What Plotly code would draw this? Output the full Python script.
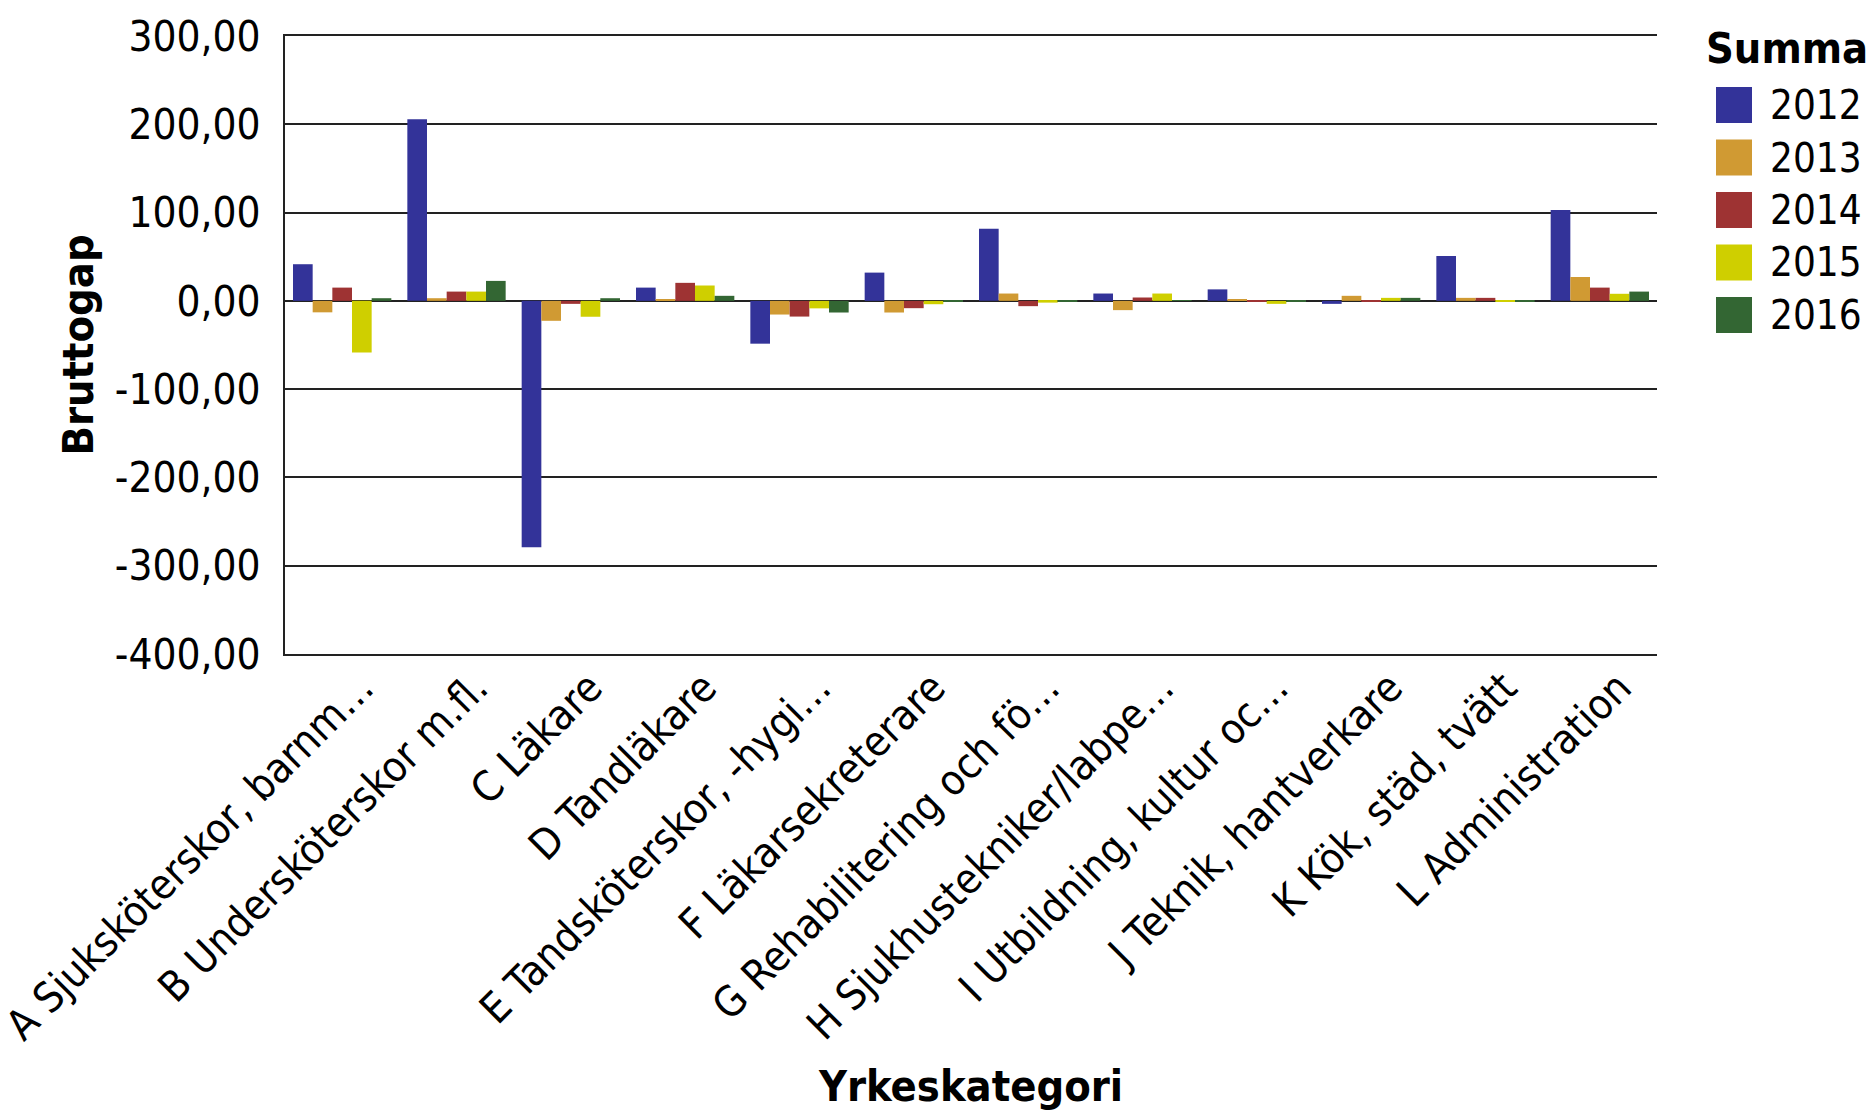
import plotly.graph_objects as go

categories = [
    "A Sjuksköterskor, barnm…",
    "B Undersköterskor m.fl.",
    "C Läkare",
    "D Tandläkare",
    "E Tandsköterskor, -hygi…",
    "F Läkarsekreterare",
    "G Rehabilitering och fö…",
    "H Sjukhustekniker/labpe…",
    "I Utbildning, kultur oc…",
    "J Teknik, hantverkare",
    "K Kök, städ, tvätt",
    "L Administration",
]
years = ["2012", "2013", "2014", "2015", "2016"]
v2012 = [41.5, 205.7, -279.0, 15.0, -48.5, 32.0, 81.7, 8.3, 13.0, -3.4, 50.8, 103.0]
v2013 = [-13.0, 3.0, -22.6, 1.0, -15.5, -13.2, 8.3, -10.5, 1.0, 5.7, 3.4, 27.0]
v2014 = [15.0, 10.5, -3.4, 20.4, -17.8, -8.3, -6.0, 3.8, -1.0, -1.0, 3.4, 15.0]
v2015 = [-58.5, 10.5, -18.0, 17.4, -8.5, -3.8, -2.0, 8.3, -3.4, 3.4, -1.0, 8.0]
v2016 = [3.0, 22.6, 3.0, 5.7, -13.2, -1.0, -1.0, 0.5, -1.0, 3.4, -1.0, 10.5]
series = [v2012, v2013, v2014, v2015, v2016]
colors = ["#333399", "#D09A33", "#9E3333", "#CFCF00", "#336633"]
tick_vals = [300, 200, 100, 0, -100, -200, -300, -400]
tick_text = ["300,00", "200,00", "100,00", "0,00", "-100,00", "-200,00", "-300,00", "-400,00"]

FONT = "DejaVu Sans Condensed, DejaVu Sans, sans-serif"

fig = go.Figure()
for name, vals, col in zip(years, series, colors):
    fig.add_trace(go.Bar(name=name, x=categories, y=vals, marker_color=col,
                         marker_line_width=0, showlegend=False))

# page body has an 8px margin; size the figure so it fits the window
OFF = 8
W, H = 1875 - 2 * OFF, 1119 - 2 * OFF
L, T = 285 - OFF, 36 - OFF
R = W - (1657 - OFF)
B = H - (654 - OFF)
pw, ph = W - L - R, H - T - B

def px_x(px):
    return (px - OFF - L) / pw

def px_y(py):
    return (H - B - (py - OFF)) / ph

# custom legend
fig.add_annotation(text="<b>Summa</b>", xref="paper", yref="paper",
                   x=px_x(1704), y=px_y(48), xanchor="left", yanchor="middle",
                   showarrow=False, font=dict(family=FONT, size=43, color="black"))
for i, (name, col) in enumerate(zip(years, colors)):
    cy = 105 + i * 52.5
    fig.add_shape(type="rect", xref="paper", yref="paper",
                  x0=px_x(1716), x1=px_x(1752), y0=px_y(cy - 18), y1=px_y(cy + 18),
                  fillcolor=col, line=dict(width=0))
    fig.add_annotation(text=name, xref="paper", yref="paper",
                       x=px_x(1768), y=px_y(cy), xanchor="left", yanchor="middle",
                       showarrow=False, font=dict(family=FONT, size=40, color="black"))

fig.update_layout(
    width=W, height=H,
    margin=dict(l=L, r=R, t=T, b=B, autoexpand=False),
    paper_bgcolor="white", plot_bgcolor="white",
    barmode="group", bargap=0.14, bargroupgap=0,
    font=dict(family=FONT, size=40, color="black"),
)
fig.update_yaxes(
    range=[-400, 300], tickvals=tick_vals, ticktext=tick_text,
    showgrid=True, gridcolor="#222222", gridwidth=2,
    zeroline=True, zerolinecolor="#222222", zerolinewidth=2,
    showline=True, linecolor="#222222", linewidth=2,
    ticks="", ticklabelstandoff=14, automargin=False,
    title=dict(text="<b>Bruttogap</b>", font=dict(family=FONT, size=43), standoff=8),
    tickfont=dict(family=FONT, size=42),
)
fig.update_xaxes(
    tickangle=-45, ticks="", automargin=False,
    ticklabelshift=19, ticklabelstandoff=-10,
    showline=True, mirror=True, linecolor="#222222", linewidth=2,
    tickfont=dict(family=FONT, size=42),
    title=dict(text="<b>Yrkeskategori</b>", font=dict(family=FONT, size=43), standoff=52),
)

fig.write_html("out.html")
